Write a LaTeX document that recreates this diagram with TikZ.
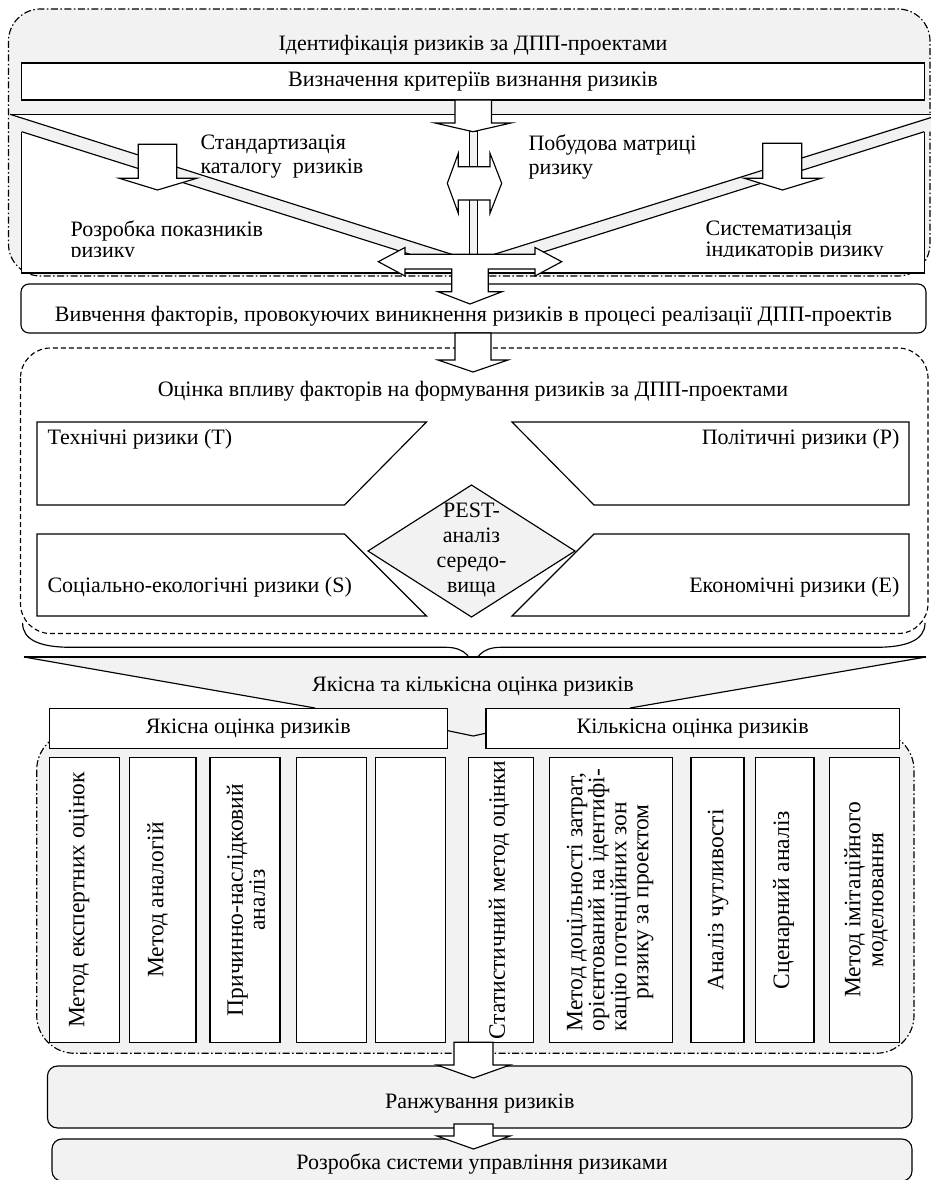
\documentclass[tikz,border=0pt]{standalone}
\usepackage{fontspec}
\setmainfont{Liberation Serif}
\definecolor{bg}{HTML}{F2F2F2}
\newcommand\fs{\fontsize{22}{24}\selectfont}
\newcommand\vfs{\fontsize{23.5}{22}\selectfont}
\begin{document}
\begin{tikzpicture}[x=1pt,y=-1pt,line width=1.15pt,line join=miter,
  every node/.style={font=\fs,inner sep=0pt},
  box/.style={draw,fill=white},
  gbox/.style={draw,fill=bg,rounded corners=10pt},
  blk/.style={draw,fill=white},
  vtxt/.style={rotate=90,font=\vfs},
  ddot/.style={dash pattern=on 7pt off 2.5pt on 1.5pt off 2.5pt},
  dsh/.style={dash pattern=on 5pt off 3pt}]
\useasboundingbox (0,0) rectangle (931,1180);
\fill[white] (0,0) rectangle (931,1180);
% ---------- section 1 ----------
\draw[ddot,fill=bg,rounded corners=32pt] (8.5,9) rectangle (930,276);
\node (t1) at (473,45) {Ідентифікація ризиків за ДПП-проектами};
\node[box,minimum width=902.6pt,minimum height=37pt] (def) at (473,81.5) {Визначення критеріїв визнання ризиків};
% V panel
\fill[white] (21.7,114.3) rectangle (924.3,273);
\fill[white] (10,114.3) -- (936,114.3) -- (494.3,254.3) -- (451.7,254.3) -- cycle;
\fill[bg] (10,114.3) -- (451.7,254.3) -- (410,254.3) -- (21.7,131.7) -- (10,131.7) -- cycle;
\fill[bg] (936,114.3) -- (494.3,254.3) -- (536,254.3) -- (924.3,131.7) -- (936,131.7) -- cycle;
\draw (10,114.3) -- (931,114.3);
\draw (10,114.3) -- (451.7,254.3);
\draw (21.7,131.7) -- (410,254.3);
\draw (936,116) -- (494.3,254.3);
\draw (924.3,131.7) -- (536,254.3);
\draw (21.7,131.7) -- (21.7,273) -- (924.3,273) -- (924.3,131.7);
% texts in V panel
\node[anchor=west,align=left] (std) at (200,157) {Стандартизація\\каталогу\ \ ризиків};
\node[anchor=west,align=left] (mat) at (528,157) {Побудова матриці\\ризику};
\begin{scope}
\clip (0,0) rectangle (931,256);
\node[anchor=west,align=left,font=\fontsize{22}{21}\selectfont] (ind) at (70,241) {Розробка показників\\ризику};
\node[anchor=west,align=left,font=\fontsize{22}{21}\selectfont] (sys) at (705,241) {Систематизація\\індикаторів ризику};
\end{scope}
% small arrows
\draw[blk] (138.3,144.3) -- (138.3,178.3) -- (119.3,178.3) -- (157.5,190) -- (196.7,178.3) -- (176.7,178.3) -- (176.7,144.3) -- cycle;
\draw[blk] (762.7,143.3) -- (762.7,178.3) -- (744.3,178.3) -- (782.5,190) -- (821,178.3) -- (801.7,178.3) -- (801.7,143.3) -- cycle;
% thin shaft and double arrow
\draw[fill=bg] (469.3,131.7) rectangle (477.3,254.3);
\draw[blk] (447.3,183.3) -- (458.3,153.3) -- (458.3,166.7) -- (490,166.7) -- (490,153.3) -- (501.7,183.3) -- (490,213.3) -- (490,200) -- (458.3,200) -- (458.3,213.3) -- cycle;
% arrow from def
\draw[blk] (455,100) -- (455,123) -- (435,123) -- (473,131.7) -- (511,123) -- (491.5,123) -- (491.5,100) -- cycle;
% ---------- study box ----------
\node[box,rounded corners=8pt,minimum width=905pt,minimum height=49pt] (study) at (473.5,308.5) {};
\node (studyt) at (473.5,316) {Вивчення факторів, провокуючих виникнення ризиків в процесі реалізації ДПП-проектів};
% T arrow
\draw[blk] (378.3,261.7) -- (405,247.5) -- (405,254.3) -- (535,254.3) -- (535,247.5) -- (561.7,261.7) -- (535,276) -- (535,269) -- (488.3,269) -- (488.3,291.7) -- (502,291.7) -- (470,304) -- (438,291.7) -- (451.7,291.7) -- (451.7,269) -- (405,269) -- (405,276) -- cycle;
% ---------- section 2 ----------
\draw[dsh,fill=white,rounded corners=30pt] (20.5,348) rectangle (928,633.5);
\draw[blk] (455,333) -- (455,360) -- (438,360) -- (473,372) -- (508,360) -- (491,360) -- (491,333) -- cycle;
\node (t2) at (473,391) {Оцінка впливу факторів на формування ризиків за ДПП-проектами};
\draw (37,422) -- (426.5,422) -- (344.5,505) -- (37,505) -- cycle;
\draw (37,534) -- (344.5,534) -- (426.5,616) -- (37,616) -- cycle;
\draw (512,422) -- (909,422) -- (909,505) -- (594,505) -- cycle;
\draw (594,534) -- (909,534) -- (909,616) -- (512,616) -- cycle;
\node[anchor=west] (tr) at (47,439) {Технічні ризики (T)};
\node[anchor=east] (pr) at (900,439) {Політичні ризики (P)};
\node[anchor=west] (sr) at (47,587) {Соціально-екологічні ризики (S)};
\node[anchor=east] (er) at (900,587) {Економічні ризики (E)};
\draw[fill=bg] (471.5,485) -- (575,551) -- (471.5,617) -- (368,551) -- cycle;
\node[align=center,font=\fontsize{22}{25}\selectfont] (pest) at (471.5,550) {PEST-\\аналіз\\середо-\\вища};
% brace
\draw (22.6,623) .. controls (22.6,640) and (40,647.3) .. (71,647.3) -- (446,647.3) .. controls (465,647.3) and (473.3,658) .. (473.3,673.3) .. controls (473.3,658) and (481.6,647.3) .. (500.6,647.3) -- (876,647.3) .. controls (907,647.3) and (925,640) .. (925,623);
% ---------- section 3 ----------
\draw[ddot,fill=bg,rounded corners=38pt] (36.7,732) rectangle (914,1053.3);
\fill[bg] (24,657) -- (926,657) -- (630,708) -- (630,752) -- (315,752) -- (315,708) -- cycle;
\draw (24,657) -- (926,657);
\draw (24,657) -- (315,708);
\draw (926,657) -- (630,708);
\node (t3) at (473,687) {Якісна та кількісна оцінка ризиків};
\node[box,minimum width=398pt,minimum height=40pt] (qual) at (248.3,728.3) {Якісна оцінка ризиків};
\node[box,minimum width=413.3pt,minimum height=40pt] (quant) at (692.65,728.3) {Кількісна оцінка ризиків};
\draw ([yshift=-2.4pt]qual.east) -- (473.3,736) -- ([yshift=-5pt]quant.west);
\foreach \n/\cx/\w in {1/84.3/70,2/162.65/66.7,3/245/70,4/331.7/70,5/410.7/70,6/500.8/65,7/611/123.4,8/717.5/53,9/784.65/58.7,10/864.3/70}
  \node[box,minimum width=\w pt,minimum height=284.6pt] (m\n) at (\cx,900) {};
\node[vtxt] (m1t) at (79,900) {Метод експертних оцінок};
\node[vtxt] (m2t) at (157.5,900) {Метод аналогій};
\node[vtxt,align=center] (m3t) at (246,900) {Причинно-наслідковий\\аналіз};
\node[vtxt] (m6t) at (499,900) {Статистичний метод оцінки};
\node[vtxt,align=left] (m7t) at (610,900) {Метод доцільності затрат,\\орієнтований на ідентифі-\\кацію потенційних зон\\\hspace*{32pt}ризику за проектом};
\node[vtxt] (m8t) at (718,900) {Аналіз чутливості};
\node[vtxt] (m9t) at (783.5,900) {Сценарний аналіз};
\node[vtxt,align=center,font=\fontsize{23.5}{23}\selectfont] (m10t) at (866,900) {Метод імітаційного\\моделювання};
% ---------- bottom ----------
\node[gbox,minimum width=864.5pt,minimum height=62pt] (rank) at (479.75,1097) {};
\node (rankt) at (479.75,1104) {Ранжування ризиків};
\draw[blk] (454,1042.3) -- (454,1065) -- (437,1065) -- (473.5,1078) -- (510,1065) -- (493,1065) -- (493,1042.3) -- cycle;
\node[gbox,minimum width=860pt,minimum height=42pt] (dev) at (482,1160) {};
\node (devt) at (482,1164) {Розробка системи управління ризиками};
\draw[blk] (454,1124) -- (454,1136) -- (437,1136) -- (473.5,1149) -- (510,1136) -- (493,1136) -- (493,1124) -- cycle;
\end{tikzpicture}
\end{document}
